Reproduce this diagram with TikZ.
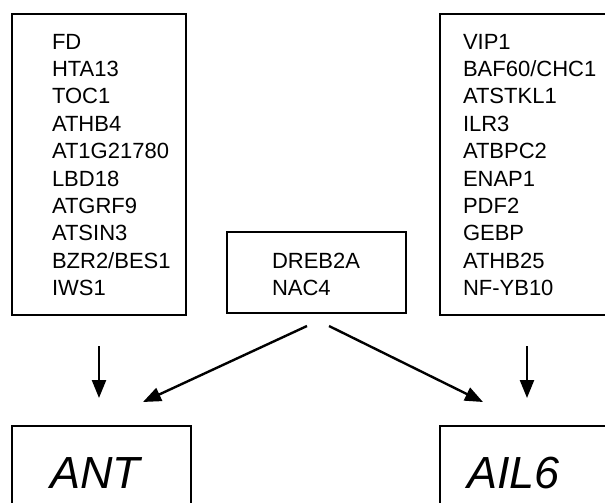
\documentclass[tikz,border=0pt]{standalone}
\usepackage{fontspec}
\setmainfont{Liberation Sans}
\usetikzlibrary{arrows.meta}
\definecolor{NetInk}{gray}{0.0}
\definecolor{NetPaper}{gray}{1.0}
\tikzset{
    net/diagram/.style={
        x=1pt, y=-1pt,
        line join=miter,
        every node/.style={inner sep=0pt, outer sep=0pt}
    },
    net/box/.style={draw=NetInk, line width=2.6pt, rectangle},
    net/gene/.style={
        font=\fontsize{22}{26}\selectfont, text=NetInk, anchor=base west
    },
    net/target/.style={
        font=\fontsize{45}{54}\selectfont\itshape, text=NetInk,
        anchor=base west
    },
    net/edge/.style={
        draw=NetInk, line width=2.4pt,
        -{Triangle[length=18pt, width=14pt]}
    }
}

\begin{document}
\begin{tikzpicture}[net/diagram]
    \useasboundingbox[fill=NetPaper] (0,0) rectangle (605,503);
    \clip (0,0) rectangle (605,503);
    % regulator boxes
    \node[net/box, minimum width=174pt, minimum height=301pt]
        (regA) at (99,164.5) {};
    \node[net/box, minimum width=174pt, minimum height=301pt]
        (regB) at (527,164.5) {};
    \node[net/box, minimum width=179pt, minimum height=81pt]
        (mid) at (316.5,272.5) {};
    \foreach \g [count=\i from 0] in
        {FD,HTA13,TOC1,ATHB4,AT1G21780,LBD18,ATGRF9,ATSIN3,BZR2/BES1,IWS1}
        \node[net/gene] (ga\i) at (52,49+27.4*\i) {\g};
    \foreach \g [count=\i from 0] in
        {VIP1,BAF60/CHC1,ATSTKL1,ILR3,ATBPC2,ENAP1,PDF2,GEBP,ATHB25,NF-YB10}
        \node[net/gene] (gb\i) at (463,49+27.4*\i) {\g};
    \node[net/gene] (dreb) at (272,268) {DREB2A};
    \node[net/gene] (nac) at (272,295) {NAC4};
    % target boxes
    \node[net/box, minimum width=179pt, minimum height=120pt]
        (ant) at (101.5,486) {};
    \node[net/box, minimum width=179pt, minimum height=120pt]
        (ail) at (529.5,486) {};
    \node[net/target] (antlabel) at (50,488) {ANT};
    \node[net/target] (aillabel) at (467,488) {AIL6};
    % edges
    \draw[net/edge, shorten <=31pt, shorten >=28pt] (regA.south) -- (ant.north -| regA.south);
    \draw[net/edge, shorten <=31pt, shorten >=28pt] (regB.south) -- (ail.north -| regB.south);
    \coordinate (midL) at (307,326);
    \coordinate (midR) at (329,326);
    \coordinate (antIn) at (143,402);
    \coordinate (ailIn) at (483,402);
    \draw[net/edge] (midL) -- (antIn);
    \draw[net/edge] (midR) -- (ailIn);
\end{tikzpicture}
\end{document}
